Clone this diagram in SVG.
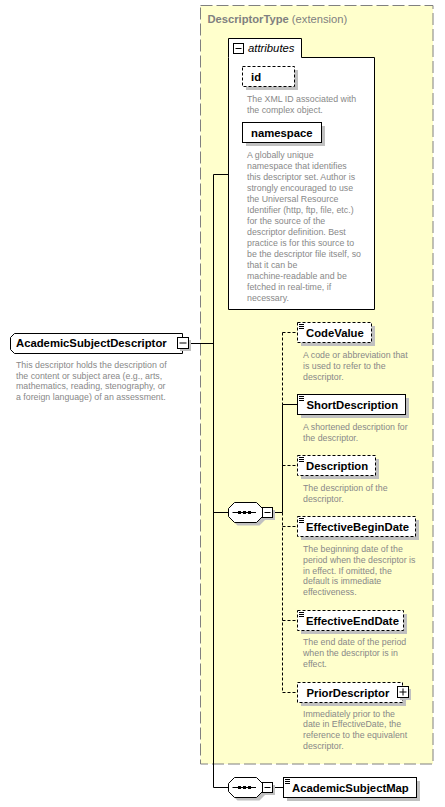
<svg xmlns="http://www.w3.org/2000/svg" width="445" height="807" viewBox="0 0 445 807">
<style>
.lbl{font-family:"Liberation Sans",Arial,sans-serif;font-size:11.3px;font-weight:bold;fill:#000}
.desc{font-family:"Liberation Sans",Arial,sans-serif;font-size:8.8px;fill:#888}
.box{fill:#fff;stroke:#000;stroke-width:1}
.opt{fill:#fff;stroke:#000;stroke-width:1;stroke-dasharray:3,2}
.sh{fill:#c0c0c0;stroke:none}
.ln{fill:none;stroke:#000;stroke-width:1}
.dl{fill:none;stroke:#000;stroke-width:1;stroke-dasharray:3,2}
.ic{fill:none;stroke:#000;stroke-width:1}
</style>
<rect id="extension" x="200.5" y="5.5" width="232.5" height="758.5" fill="#ffffcc" stroke="#808080" stroke-dasharray="12,4"/>
<text x="207.5" y="23" font-family="Liberation Sans, Arial, sans-serif" font-size="11.2px" fill="#808080"><tspan font-weight="bold">DescriptorType</tspan> (extension)</text>

<g id="connectors">
<path class="ln" d="M188.5,343.5 H213.5 M213.5,174.5 V787.5 M213.5,174.5 H228.5 M213.5,512.5 H228.5 M213.5,787.5 H228.5"/>
<path class="ln" d="M272.5,512.5 H282.5 M282.5,404.5 V512.5 M282.5,404.5 H297.5"/>
<path class="dl" d="M282.5,332.5 V404.5 M282.5,512.5 V692.5 M282.5,332.5 H297.5 M282.5,465.5 H297.5 M282.5,526.5 H297.5 M282.5,620.5 H297.5 M282.5,692.5 H297.5"/>
<path class="ln" d="M272.5,787.5 H283.5"/>
</g>

<g id="attributes">
<path class="box" d="M228.5,57.5 V38.5 H301.5 V57.5 H374.5 V309.5 H228.5 Z"/>
<rect class="box" x="233.5" y="43.5" width="10" height="10"/>
<path class="ic" d="M235.5,48.5 H241.5"/>
<text x="248" y="52" font-family="Liberation Sans, Arial, sans-serif" font-size="11.3px" font-style="italic">attributes</text>
</g>

<g id="attr-id">
<rect class="sh" x="246" y="70" width="52" height="20"/>
<rect class="opt" x="242.5" y="66.5" width="52" height="20"/>
<text class="lbl" x="251" y="80.7">id</text>
<text class="desc" x="247" y="102">The XML ID associated with</text>
<text class="desc" x="247" y="112.5">the complex object.</text>
</g>

<g id="attr-namespace">
<rect class="sh" x="246" y="126" width="79" height="20"/>
<rect class="box" x="242.5" y="122.5" width="79" height="20"/>
<text class="lbl" x="251" y="136.7">namespace</text>
<text class="desc" x="247" y="158">A globally unique</text>
<text class="desc" x="247" y="169">namespace that identifies</text>
<text class="desc" x="247" y="180">this descriptor set. Author is</text>
<text class="desc" x="247" y="191">strongly encouraged to use</text>
<text class="desc" x="247" y="202">the Universal Resource</text>
<text class="desc" x="247" y="213">Identifier (http, ftp, file, etc.)</text>
<text class="desc" x="247" y="224">for the source of the</text>
<text class="desc" x="247" y="235">descriptor definition. Best</text>
<text class="desc" x="247" y="246">practice is for this source to</text>
<text class="desc" x="247" y="257">be the descriptor file itself, so</text>
<text class="desc" x="247" y="268">that it can be</text>
<text class="desc" x="247" y="279">machine-readable and be</text>
<text class="desc" x="247" y="290">fetched in real-time, if</text>
<text class="desc" x="247" y="301">necessary.</text>
</g>

<g id="AcademicSubjectDescriptor">
<path class="box" d="M14.5,333.5 H182.5 V353.5 H14.5 L10.5,349.5 V337.5 Z"/>
<rect class="sh" x="180" y="340" width="11" height="11"/>
<rect class="box" x="177.5" y="337.5" width="11" height="11"/>
<path class="ic" d="M179.5,343 H186.5"/>
<text class="lbl" x="16" y="347.3">AcademicSubjectDescriptor</text>
<text class="desc" x="16" y="368">This descriptor holds the description of</text>
<text class="desc" x="16" y="378.7">the content or subject area (e.g., arts,</text>
<text class="desc" x="16" y="389.3">mathematics, reading, stenography, or</text>
<text class="desc" x="16" y="400">a foreign language) of an assessment.</text>
</g>

<g id="sequence1">
<path class="sh" d="M237.5,505.5 H259.5 L265.5,511.5 V519.5 L259.5,525.5 H237.5 L231.5,519.5 V511.5 Z"/>
<path class="box" d="M234.5,502.5 H256.5 L262.5,508.5 V516.5 L256.5,522.5 H234.5 L228.5,516.5 V508.5 Z"/>
<path class="ic" d="M232.5,512.5 H256"/>
<rect x="238" y="511" width="3" height="3" fill="#000"/>
<rect x="243" y="511" width="3" height="3" fill="#000"/>
<rect x="248" y="511" width="3" height="3" fill="#000"/>
<rect class="sh" x="265" y="510" width="10" height="10"/>
<rect class="box" x="262.5" y="507.5" width="10" height="10"/>
<path class="ic" d="M264.5,512.5 H270.5"/>
</g>

<g id="CodeValue">
<rect class="sh" x="301" y="326" width="74" height="20"/>
<rect class="opt" x="297.5" y="322.5" width="74" height="20"/>
<path class="ic" d="M299,324.5 h5 M299,326.5 h5 M299,328.5 h5"/>
<text class="lbl" x="306" y="336.7">CodeValue</text>
<text class="desc" x="303" y="357.5">A code or abbreviation that</text>
<text class="desc" x="303" y="368.5">is used to refer to the</text>
<text class="desc" x="303" y="379.5">descriptor.</text>
</g>

<g id="ShortDescription">
<rect class="sh" x="301" y="398" width="108" height="20"/>
<rect class="box" x="297.5" y="394.5" width="108" height="20"/>
<path class="ic" d="M299,396.5 h5 M299,398.5 h5 M299,400.5 h5"/>
<text class="lbl" x="306.5" y="408.7">ShortDescription</text>
<text class="desc" x="303" y="430">A shortened description for</text>
<text class="desc" x="303" y="440.8">the descriptor.</text>
</g>

<g id="Description">
<rect class="sh" x="301" y="459" width="78" height="20"/>
<rect class="opt" x="297.5" y="455.5" width="78" height="20"/>
<path class="ic" d="M299,457.5 h5 M299,459.5 h5 M299,461.5 h5"/>
<text class="lbl" x="306" y="469.7">Description</text>
<text class="desc" x="303" y="490.5">The description of the</text>
<text class="desc" x="303" y="501.8">descriptor.</text>
</g>

<g id="EffectiveBeginDate">
<rect class="sh" x="301" y="520" width="118" height="20"/>
<rect class="opt" x="297.5" y="516.5" width="118" height="20"/>
<path class="ic" d="M299,518.5 h5 M299,520.5 h5 M299,522.5 h5"/>
<text class="lbl" x="306" y="530.7">EffectiveBeginDate</text>
<text class="desc" x="303" y="552">The beginning date of the</text>
<text class="desc" x="303" y="562.8">period when the descriptor is</text>
<text class="desc" x="303" y="573.5">in effect. If omitted, the</text>
<text class="desc" x="303" y="584.2">default is immediate</text>
<text class="desc" x="303" y="595">effectiveness.</text>
</g>

<g id="EffectiveEndDate">
<rect class="sh" x="301" y="614" width="106" height="20"/>
<rect class="opt" x="297.5" y="610.5" width="106" height="20"/>
<path class="ic" d="M299,612.5 h5 M299,614.5 h5 M299,616.5 h5"/>
<text class="lbl" x="306" y="624.7">EffectiveEndDate</text>
<text class="desc" x="303" y="645">The end date of the period</text>
<text class="desc" x="303" y="656">when the descriptor is in</text>
<text class="desc" x="303" y="667">effect.</text>
</g>

<g id="PriorDescriptor">
<rect class="sh" x="301" y="686" width="105" height="20"/>
<rect class="opt" x="297.5" y="682.5" width="105" height="20"/>
<rect class="sh" x="400" y="689" width="11" height="11"/>
<rect class="box" x="397.5" y="686.5" width="11" height="11"/>
<path class="ic" d="M399.5,692 H406.5 M403,688.5 V695.5"/>
<text class="lbl" x="306.5" y="696.5">PriorDescriptor</text>
<text class="desc" x="303" y="716.5">Immediately prior to the</text>
<text class="desc" x="303" y="727.3">date in EffectiveDate, the</text>
<text class="desc" x="303" y="738">reference to the equivalent</text>
<text class="desc" x="303" y="748.8">descriptor.</text>
</g>

<g id="sequence2">
<path class="sh" d="M237.5,780.5 H259.5 L265.5,786.5 V794.5 L259.5,800.5 H237.5 L231.5,794.5 V786.5 Z"/>
<path class="box" d="M234.5,777.5 H256.5 L262.5,783.5 V791.5 L256.5,797.5 H234.5 L228.5,791.5 V783.5 Z"/>
<path class="ic" d="M232.5,787.5 H256"/>
<rect x="238" y="786" width="3" height="3" fill="#000"/>
<rect x="243" y="786" width="3" height="3" fill="#000"/>
<rect x="248" y="786" width="3" height="3" fill="#000"/>
<rect class="sh" x="265" y="785" width="10" height="10"/>
<rect class="box" x="262.5" y="782.5" width="10" height="10"/>
<path class="ic" d="M264.5,787.5 H270.5"/>
</g>

<g id="AcademicSubjectMap">
<rect class="sh" x="287" y="781" width="133" height="20"/>
<rect class="box" x="283.5" y="777.5" width="133" height="20"/>
<path class="ic" d="M285,779.5 h5 M285,781.5 h5 M285,783.5 h5"/>
<text class="lbl" x="292" y="791.7">AcademicSubjectMap</text>
</g>
</svg>
